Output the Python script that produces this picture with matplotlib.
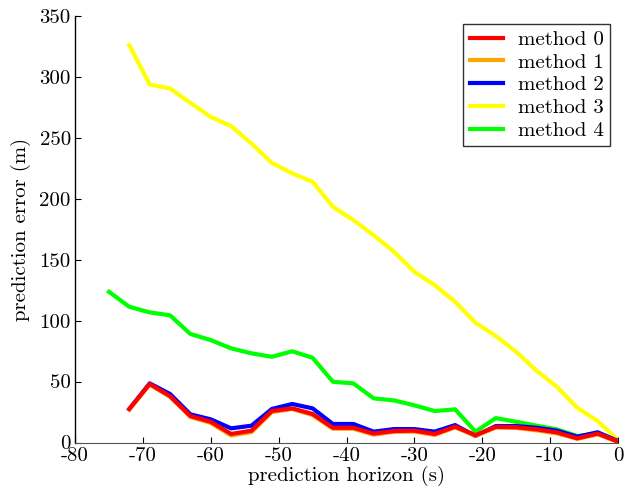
import numpy as np
import matplotlib
matplotlib.use('Agg')
import matplotlib.pyplot as plt

plt.rcParams['font.family'] = ['cmr10', 'DejaVu Serif']
plt.rcParams['axes.unicode_minus'] = False
plt.rcParams['mathtext.fontset'] = 'cm'

# prediction horizon (s)
t_green = np.arange(-75, 1, 3)
t_rest = np.arange(-72, 1, 3)

method0 = [27.5, 48, 38, 21.7, 17, 7, 9.7, 25.8, 28, 23.4, 12.1, 12.1, 7.3,
           9.4, 9.7, 7, 13, 6, 12.8, 12.5, 10.8, 8.3, 3.4, 7.3, 0.7]
method1 = [27, 47.5, 37.5, 21, 16, 5.8, 8.5, 25, 27.5, 22.5, 11.3, 11.3, 6.5,
           8.8, 9, 6.2, 12.4, 5.5, 12.3, 12, 10, 7.5, 3, 6.8, 0.5]
method2 = [27.5, 48.5, 39.8, 23.1, 19, 11.6, 13.8, 27.5, 31.6, 28, 15.2, 15.2, 8.9,
           11, 11, 8.9, 14.3, 5.3, 13.5, 13.5, 12.1, 9.7, 4.8, 8.4, 1.2]
method3 = [325.8, 293.6, 290.3, 278.5, 267, 259.4, 245.2, 229.3, 220.7, 213.8,
           193.3, 182.4, 170, 156.4, 140, 129, 115.4, 98.2, 87.3, 74.4, 58.9,
           45.7, 28.5, 17.6, 2]
method4 = [123.6, 111.3, 106.7, 104.3, 89, 84, 77.2, 73.1, 70.3, 74.8, 69.5,
           49.8, 48.5, 36.2, 34.5, 30.5, 25.8, 27.2, 8.9, 20, 17, 13.8, 10.8,
           5.3, 7, 1.2]

fig = plt.figure(figsize=(6.33, 4.92), dpi=100)
ax = fig.add_axes([0.1185, 0.1006, 0.8578, 0.8675])

lw = 3
ax.plot(t_rest, method0, color='#ff0000', lw=lw, label='method 0', zorder=10)
ax.plot(t_rest, method1, color='#ffa500', lw=lw, label='method 1', zorder=9)
ax.plot(t_rest, method2, color='#0000ff', lw=lw, label='method 2', zorder=8)
ax.plot(t_rest, method3, color='#ffff00', lw=lw, label='method 3', zorder=7)
ax.plot(t_green, method4, color='#00ff00', lw=lw, label='method 4', zorder=6)

ax.set_xlim(-80, 0)
ax.set_ylim(0, 350)
ax.set_xticks(np.arange(-80, 1, 10))
ax.set_yticks(np.arange(0, 351, 50))
ax.tick_params(direction='in', length=4, labelsize=15, pad=3)
ax.spines['top'].set_visible(False)
ax.spines['right'].set_visible(False)
ax.spines['left'].set_linewidth(1)
ax.spines['bottom'].set_color('#555555')

ax.set_xlabel('prediction horizon (s)', fontsize=15, labelpad=1)
ax.set_ylabel('prediction error (m)', fontsize=15, labelpad=6)

leg = ax.legend(loc='upper right', fontsize=15, frameon=True, fancybox=False,
                edgecolor='black', handlelength=1.6, handletextpad=0.7,
                borderaxespad=0.4, labelspacing=0.2, borderpad=0.3)
leg.get_frame().set_linewidth(1)

fig.savefig('out.png', dpi=100)
